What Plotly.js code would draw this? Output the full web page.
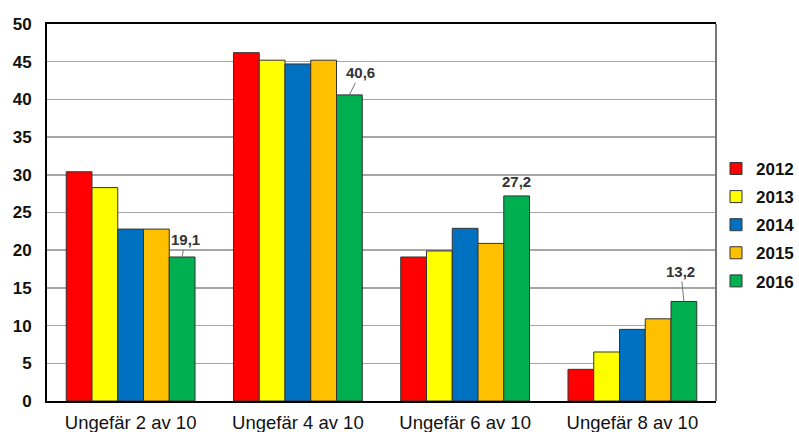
<!DOCTYPE html>
<html>
<head>
<meta charset="utf-8">
<script src="https://cdn.plot.ly/plotly-3.0.1.min.js"></script>
<style>html,body{margin:0;padding:0;background:#fff;}#chart{width:799px;height:432px;}</style>
</head>
<body>
<div id="chart"></div>
<script>
var categories = ["Ungefär 2 av 10", "Ungefär 4 av 10", "Ungefär 6 av 10", "Ungefär 8 av 10"];
var years = ["2012", "2013", "2014", "2015", "2016"];
var v2012 = [30.4, 46.2, 19.1, 4.2];
var v2013 = [28.3, 45.2, 19.9, 6.5];
var v2014 = [22.8, 44.7, 22.9, 9.5];
var v2015 = [22.8, 45.2, 20.9, 10.9];
var v2016 = [19.1, 40.6, 27.2, 13.2];
var labels2016 = ["19,1", "40,6", "27,2", "13,2"];
var yTicks = [0, 5, 10, 15, 20, 25, 30, 35, 40, 45, 50];

var series = [v2012, v2013, v2014, v2015, v2016];
var colors = ["#FF0000", "#FFFF00", "#0070C0", "#FFC000", "#00B050"];
var FONT = "Liberation Sans, Arial, sans-serif";

var traces = series.map(function (vals, i) {
  return {
    type: "bar",
    name: years[i],
    x: categories,
    y: vals,
    legendgroup: years[i],
    marker: { color: colors[i], line: { color: "#333333", width: 1 } },
    hoverinfo: "none"
  };
});

var bargap = 0.23;
var barOffset = 2 * (1 - bargap) / 5; // center of 5th bar relative to group center
var annShift = [[3, -17, true], [11, -22, true], [0, -14, false], [-3, -30, true]];
var annotations = v2016.map(function (v, i) {
  var a = {
    x: i + barOffset, y: v, xref: "x", yref: "y",
    text: labels2016[i],
    font: { family: FONT, size: 15, color: "#333333", weight: "bold" },
    showarrow: annShift[i][2],
    arrowhead: 0, arrowwidth: 1, arrowcolor: "#777777",
    ax: annShift[i][0], ay: annShift[i][1]
  };
  if (!annShift[i][2]) { a.yanchor = "bottom"; a.yshift = 4; }
  return a;
});

var layout = {
  width: 799, height: 432,
  margin: { l: 47, r: 83, t: 24, b: 31, autoexpand: false },
  paper_bgcolor: "#ffffff", plot_bgcolor: "#ffffff",
  barmode: "group", bargap: bargap, bargroupgap: 0,
  font: { family: FONT, color: "#000000" },
  xaxis: {
    type: "category",
    showline: true, linecolor: "#000000", linewidth: 2, mirror: true,
    showgrid: false, zeroline: false,
    tickfont: { family: FONT, size: 18.5, color: "#111111" },
    ticks: "", ticklabelstandoff: 4
  },
  yaxis: {
    range: [0, 50], tickvals: yTicks, ticktext: yTicks.map(String),
    showline: true, linecolor: "#000000", linewidth: 2,
    showgrid: true, gridcolor: "#a6a6a6", gridwidth: 1.5,
    zeroline: false,
    tickfont: { family: FONT, size: 17, color: "#111111", weight: "bold" },
    ticks: "", ticklabelstandoff: 10
  },
  showlegend: true,
  legend: {
    x: 1.0, xanchor: "left", y: 0.467, yanchor: "middle",
    font: { family: FONT, size: 17, color: "#111111", weight: "bold" },
    traceorder: "grouped", tracegroupgap: 3,
    bgcolor: "rgba(0,0,0,0)", itemwidth: 30
  },
  shapes: [{
    type: "line", xref: "paper", yref: "paper", x0: 1, x1: 1, y0: 0, y1: 1,
    line: { color: "#777777", width: 2 }
  }],
  annotations: annotations
};

Plotly.newPlot("chart", traces, layout, { displayModeBar: false, staticPlot: true });
</script>
</body>
</html>
